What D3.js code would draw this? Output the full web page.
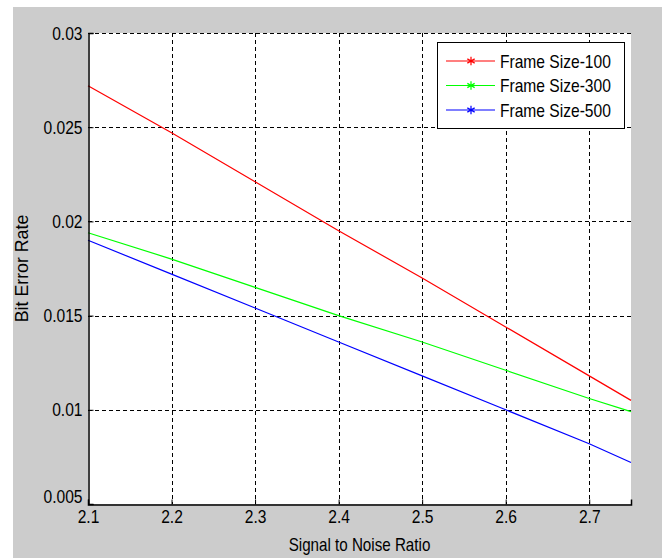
<!DOCTYPE html>
<html lang="en">
<head>
    <meta charset="UTF-8">
    <title>Bit Error Rate vs SNR</title>
    <style>
        body {
            margin: 0;
            background: white;
        }

        text {
            font-family: 'Liberation Sans', Arial, sans-serif;
            fill: #000;
        }

        .grid line {
            stroke: #000;
            stroke-width: 1px;
            stroke-dasharray: 4 3;
        }
    </style>
</head>
<body>
    <div id="chart"></div>
    <script src="https://d3js.org/d3.v7.min.js"></script>
    <script>
        // Data
        const snr = [2.1, 2.2, 2.3, 2.4, 2.5, 2.6, 2.7, 2.75];
        const ber100 = [0.0272, 0.0247, 0.0221, 0.0195, 0.0170, 0.0144, 0.0118, 0.0105];
        const ber300 = [0.0194, 0.0180, 0.0165, 0.0150, 0.0136, 0.0121, 0.0106, 0.0099];
        const ber500 = [0.0190, 0.0172, 0.0154, 0.0136, 0.0118, 0.0100, 0.0082, 0.0072];
        const seriesNames = ["Frame Size-100", "Frame Size-300", "Frame Size-500"];
        const seriesColors = ["#ff0000", "#00ff00", "#0000ff"];
        const xTicks = [2.1, 2.2, 2.3, 2.4, 2.5, 2.6, 2.7];
        const yTicks = [0.005, 0.01, 0.015, 0.02, 0.025, 0.03];

        const width = 662, height = 558;
        const plot = { left: 88, right: 631, top: 33, bottom: 504 };

        // squeeze text horizontally to mimic the narrow MATLAB font
        function narrow(selection, factor) {
            selection.each(function () {
                const len = this.getComputedTextLength();
                d3.select(this)
                    .attr("textLength", len * factor)
                    .attr("lengthAdjust", "spacingAndGlyphs");
            });
        }

        const svg = d3.select("#chart").append("svg")
            .attr("width", width)
            .attr("height", height);

        // grey figure background
        svg.append("rect")
            .attr("x", 13).attr("y", 7)
            .attr("width", width - 13).attr("height", height - 7)
            .attr("fill", "#cccccc");

        svg.append("rect")
            .attr("x", plot.left).attr("y", plot.top)
            .attr("width", plot.right - plot.left).attr("height", plot.bottom - plot.top)
            .attr("fill", "white");

        const x = d3.scaleLinear().domain([2.1, 2.75]).range([plot.left, plot.right]);
        const y = d3.scaleLinear().domain([0.005, 0.03]).range([plot.bottom, plot.top]);

        // dashed grid
        const grid = svg.append("g").attr("class", "grid");
        grid.selectAll(".vx")
            .data(xTicks.slice(1))
            .enter().append("line")
            .attr("x1", d => Math.round(x(d)) + 0.5).attr("x2", d => Math.round(x(d)) + 0.5)
            .attr("y1", plot.top).attr("y2", plot.bottom);
        grid.selectAll(".hy")
            .data(yTicks.slice(1))
            .enter().append("line")
            .attr("x1", plot.left).attr("x2", plot.right)
            .attr("y1", d => Math.round(y(d)) + 0.5).attr("y2", d => Math.round(y(d)) + 0.5);

        // series
        const line = d3.line()
            .x((d, i) => x(snr[i]))
            .y(d => y(d));
        [ber100, ber300, ber500].forEach((vals, i) => {
            svg.append("path")
                .datum(vals)
                .attr("d", line)
                .attr("fill", "none")
                .attr("stroke", seriesColors[i])
                .attr("stroke-width", 1.2);
        });

        // axes (left and bottom, ticks inward)
        const xAxis = svg.append("g")
            .attr("transform", `translate(0,${plot.bottom + 0.5})`)
            .call(d3.axisBottom(x).tickValues(xTicks).tickSize(-5).tickPadding(8).tickFormat(d3.format(".1f")));
        const yAxis = svg.append("g")
            .attr("transform", `translate(${plot.left + 0.5},0)`)
            .call(d3.axisLeft(y).tickValues(yTicks).tickSize(-5).tickPadding(6).tickFormat(d => d3.format("")(+d.toFixed(3))));
        [xAxis, yAxis].forEach(a => {
            a.select(".domain").attr("stroke", "#000").attr("stroke-width", 1.5);
            a.selectAll("text").style("font-size", "19px").attr("fill", "#000");
            a.selectAll("text").call(narrow, 0.82);
        });
        xAxis.selectAll(".tick text").attr("dy", "0.55em");
        yAxis.selectAll(".tick text").filter(d => d === 0.005).attr("dy", "-0.08em");

        // axis titles
        svg.append("text")
            .attr("x", (plot.left + plot.right) / 2)
            .attr("y", 551)
            .attr("text-anchor", "middle")
            .style("font-size", "18.5px")
            .text("Signal to Noise Ratio")
            .call(narrow, 0.82);
        svg.append("text")
            .attr("transform", `translate(28,${(plot.top + plot.bottom) / 2}) rotate(-90)`)
            .attr("text-anchor", "middle")
            .style("font-size", "18.5px")
            .text("Bit Error Rate")
            .call(narrow, 0.96);

        // legend
        const legend = svg.append("g").attr("transform", "translate(437,42)");
        legend.append("rect")
            .attr("x", 0.5).attr("y", 0.5)
            .attr("width", 187).attr("height", 86)
            .attr("fill", "white")
            .attr("stroke", "#000")
            .attr("stroke-width", 1);
        const star = d3.symbol().type(d3.symbolAsterisk).size(50);
        seriesNames.forEach((name, i) => {
            const ly = 19 + i * 24.5;
            legend.append("line")
                .attr("x1", 9).attr("x2", 58)
                .attr("y1", ly).attr("y2", ly)
                .attr("stroke", seriesColors[i])
                .attr("stroke-width", 1.2);
            legend.append("path")
                .attr("d", star)
                .attr("transform", `translate(34,${ly})`)
                .attr("fill", "none")
                .attr("stroke", seriesColors[i])
                .attr("stroke-width", 1.2);
            legend.append("text")
                .attr("x", 63).attr("y", ly)
                .attr("dy", "0.36em")
                .style("font-size", "19px")
                .text(name)
                .call(narrow, 0.82);
        });
    </script>
</body>
</html>
